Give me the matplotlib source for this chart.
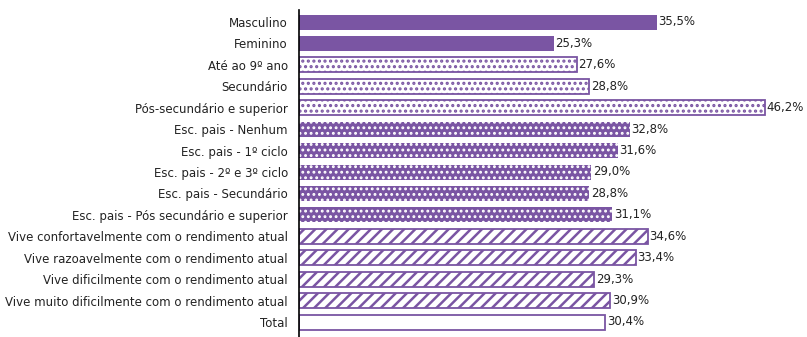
import matplotlib as mpl
import matplotlib.pyplot as plt

categories = [
    "Masculino", "Feminino", "Até ao 9º ano", "Secundário",
    "Pós-secundário e superior", "Esc. pais - Nenhum", "Esc. pais - 1º ciclo",
    "Esc. pais - 2º e 3º ciclo", "Esc. pais - Secundário",
    "Esc. pais - Pós secundário e superior",
    "Vive confortavelmente com o rendimento atual",
    "Vive razoavelmente com o rendimento atual",
    "Vive dificilmente com o rendimento atual",
    "Vive muito dificilmente com o rendimento atual",
    "Total",
]
values = [35.5, 25.3, 27.6, 28.8, 46.2, 32.8, 31.6, 29.0, 28.8, 31.1,
          34.6, 33.4, 29.3, 30.9, 30.4]
groups = ["sexo"] * 2 + ["esc"] * 3 + ["pais"] * 5 + ["rend"] * 4 + ["total"]

purple = "#7a55a3"

fig = plt.figure(figsize=(8.07, 3.37), dpi=100)
ax = fig.add_axes([299 / 807, 0.0, 1 - 299 / 807 - 0.005, 1 - 10 / 337])

h = 0.7
for i, (v, g) in enumerate(zip(values, groups)):
    if g == "sexo":
        ax.barh(i, v, height=h, color=purple, linewidth=0)
    elif g == "esc":
        with mpl.rc_context({"hatch.linewidth": 1.5}):
            ax.barh(i, v, height=h, facecolor="white", edgecolor=purple,
                    hatch="...", linewidth=1.3)
    elif g == "pais":
        with mpl.rc_context({"hatch.linewidth": 1.3}):
            ax.barh(i, v, height=h, facecolor=purple, edgecolor="white",
                    hatch="...", linewidth=0)
    elif g == "rend":
        with mpl.rc_context({"hatch.linewidth": 1.8}):
            ax.barh(i, v, height=h, facecolor="white", edgecolor=purple,
                    hatch="///", linewidth=1.3)
    else:
        ax.barh(i, v, height=h, facecolor="white", edgecolor=purple,
                linewidth=1.3)
    ax.annotate(f"{v:.1f}%".replace(".", ","), (v, i), xytext=(1, 0),
                textcoords="offset points", va="center", ha="left",
                fontsize=8.5, color="#222222")

ax.set_yticks(range(len(categories)))
ax.set_yticklabels(categories, fontsize=8.5, color="#222222")
ax.tick_params(axis="y", length=0, pad=8)
ax.set_ylim(14.7, -0.56)
ax.set_xlim(0, 50)
ax.set_xticks([])
for s in ["top", "right", "bottom"]:
    ax.spines[s].set_visible(False)
ax.spines["left"].set_linewidth(1.2)
ax.spines["left"].set_color("black")

fig.savefig("out.png", dpi=100)
